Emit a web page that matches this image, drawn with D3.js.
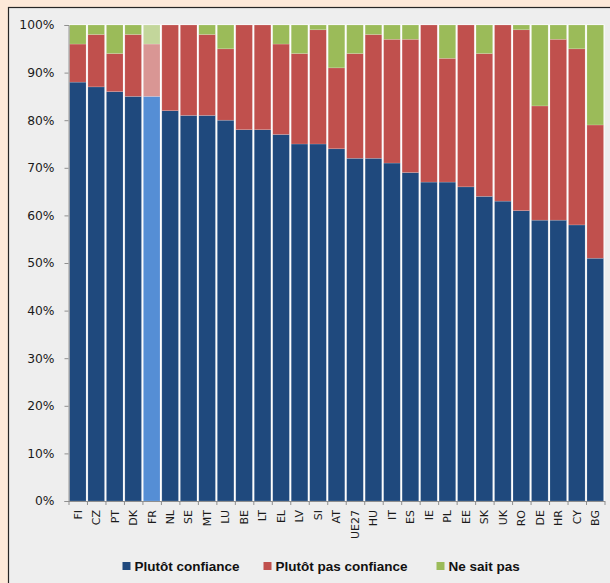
<!DOCTYPE html>
<html>
<head>
<meta charset="utf-8">
<script src="https://cdn.jsdelivr.net/npm/d3@7/dist/d3.min.js"></script>
<style>
  html, body { margin: 0; padding: 0; background: #fde9d9; }
  svg { display: block; }
</style>
</head>
<body>
<svg id="chart" width="610" height="583"></svg>
<script>
// Confidence levels by country (%)
const countries = ["FI","CZ","PT","DK","FR","NL","SE","MT","LU","BE","LT","EL","LV","SI","AT","UE27","HU","IT","ES","IE","PL","EE","SK","UK","RO","DE","HR","CY","BG"];
const confiance    = [88,87,86,85,85,82,81,81,80,78,78,77,75,75,74,72,72,71,69,67,67,66,64,63,61,59,59,58,51];
const pasConfiance = [8,11,8,13,11,18,19,17,15,22,22,19,19,24,17,22,26,26,28,33,26,34,30,37,38,24,38,37,28];
const neSaitPas    = [4,2,6,2,4,0,0,2,5,0,0,4,6,1,9,6,2,3,3,0,7,0,6,0,1,17,3,5,21];
const yTicks = [0,10,20,30,40,50,60,70,80,90,100];
const seriesNames = ["Plutôt confiance","Plutôt pas confiance","Ne sait pas"];
const highlight = "FR";

const colors = ["#1f497d","#c0504d","#9bbb59"];
const colorsHi = ["#558ed5","#d99694","#c3d69b"];

const svg = d3.select("#chart");

// Chart frame
svg.append("rect")
  .attr("x", 8.5).attr("y", 7.5)
  .attr("width", 700).attr("height", 700)
  .attr("fill", "#eeeeee")
  .attr("stroke", "#262626").attr("stroke-width", 1.2);

const plotLeft = 68.5, plotRight = 604.5, plotTop = 25, plotBottom = 501;

const x = d3.scaleBand().domain(countries).range([plotLeft, plotRight]).paddingInner(0.1).paddingOuter(0.05);
const y = d3.scaleLinear().domain([0, 100]).range([plotBottom, plotTop]);

const rows = countries.map((c, i) => ({
  country: c,
  [seriesNames[0]]: confiance[i],
  [seriesNames[1]]: pasConfiance[i],
  [seriesNames[2]]: neSaitPas[i]
}));
const stacked = d3.stack().keys(seriesNames)(rows);

// white separators between columns
svg.append("g").selectAll("rect")
  .data(countries)
  .join("rect")
  .attr("x", d => x(d) - 1)
  .attr("y", y(100) - 0.5)
  .attr("width", x.bandwidth() + 2)
  .attr("height", y(0) - y(100) + 0.5)
  .attr("fill", "#ffffff");

stacked.forEach((layer, k) => {
  svg.append("g").selectAll("rect")
    .data(layer)
    .join("rect")
    .attr("x", d => x(d.data.country))
    .attr("width", x.bandwidth())
    .attr("y", d => y(d[1]))
    .attr("height", d => Math.max(0, y(d[0]) - y(d[1])))
    .attr("fill", d => d.data.country === highlight ? colorsHi[k] : colors[k])
    .attr("stroke", "rgba(255,255,255,0.25)")
    .attr("stroke-width", 0.6);
});

// Y axis
const yAxis = svg.append("g")
  .attr("transform", `translate(${plotLeft},0)`)
  .call(d3.axisLeft(y).tickValues(yTicks).tickFormat(d => d + "%").tickSize(4).tickPadding(10));
yAxis.select(".domain").attr("stroke", "#8f8f8f");
yAxis.selectAll(".tick line").attr("stroke", "#8f8f8f");
yAxis.selectAll(".tick text")
  .attr("fill", "#1a1a1a")
  .style("font-family", "DejaVu Sans, sans-serif")
  .style("font-size", "12.3px");

// X axis: baseline, boundary ticks and rotated labels
const xb = d3.scaleLinear().domain([0, countries.length]).range([plotLeft, plotRight]);
const xAxis = svg.append("g")
  .attr("transform", `translate(0,${plotBottom})`)
  .call(d3.axisBottom(xb).tickValues(d3.range(countries.length + 1)).tickFormat("").tickSize(4).tickSizeOuter(0));
xAxis.select(".domain").attr("stroke", "#8f8f8f");
xAxis.selectAll(".tick line").attr("stroke", "#8f8f8f");

svg.append("g").selectAll("text")
  .data(countries)
  .join("text")
  .attr("transform", d => `translate(${x(d) + x.bandwidth() / 2},${plotBottom + 9}) rotate(-90)`)
  .attr("text-anchor", "end")
  .attr("dy", "0.35em")
  .attr("fill", "#1a1a1a")
  .style("font-family", "DejaVu Sans, sans-serif")
  .style("font-size", "11px")
  .text(d => d);

// Legend
const legendX = [122.5, 263.5, 436.5];
const legend = svg.append("g").selectAll("g")
  .data(seriesNames)
  .join("g")
  .attr("transform", (d, i) => `translate(${legendX[i]},562)`);
legend.append("rect")
  .attr("width", 8).attr("height", 8)
  .attr("fill", (d, i) => colors[i]);
legend.append("text")
  .attr("x", 12).attr("y", 8.5)
  .attr("fill", "#111")
  .style("font-family", "Liberation Sans, Arial, sans-serif")
  .style("font-weight", "bold")
  .style("font-size", "13.5px")
  .text(d => d);
</script>
</body>
</html>
